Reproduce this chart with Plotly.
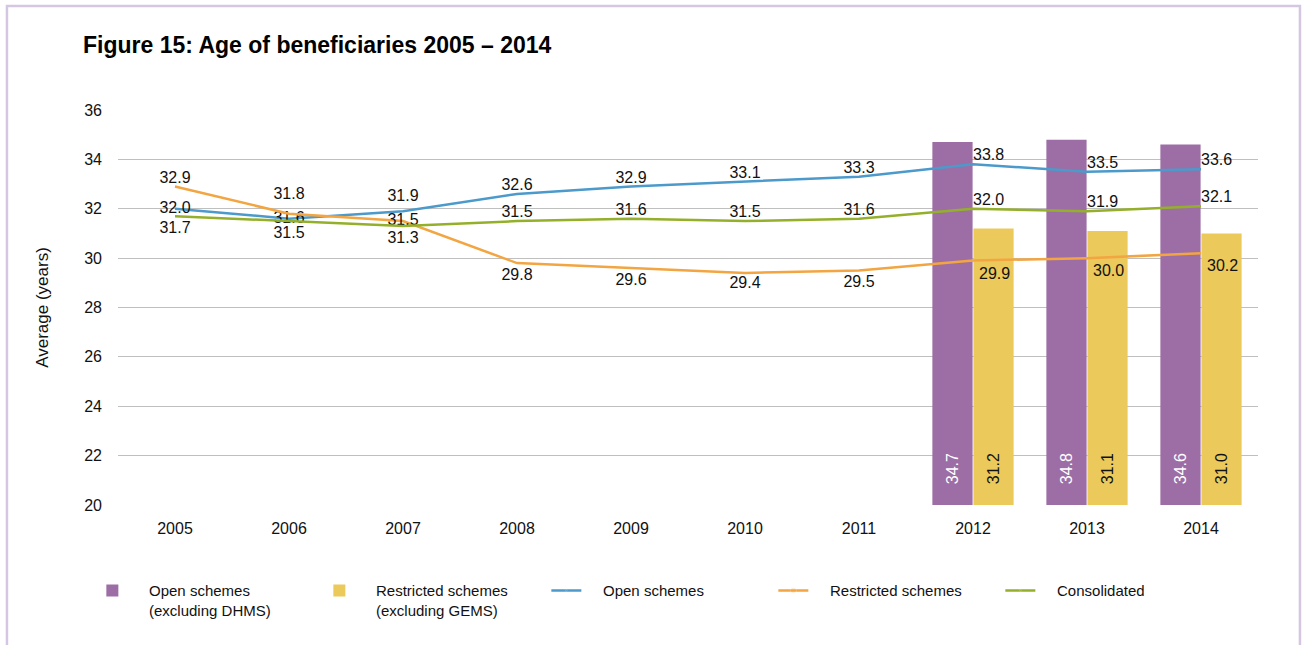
import plotly.graph_objects as go

years = ["2005", "2006", "2007", "2008", "2009", "2010", "2011", "2012", "2013", "2014"]
bar_years = ["2012", "2013", "2014"]
open_excl_dhms = [34.7, 34.8, 34.6]
restricted_excl_gems = [31.2, 31.1, 31.0]
open_schemes = [32.0, 31.6, 31.9, 32.6, 32.9, 33.1, 33.3, 33.8, 33.5, 33.6]
restricted_schemes = [32.9, 31.8, 31.5, 29.8, 29.6, 29.4, 29.5, 29.9, 30.0, 30.2]
consolidated = [31.7, 31.5, 31.3, 31.5, 31.6, 31.5, 31.6, 32.0, 31.9, 32.1]
y_ticks = [20, 22, 24, 26, 28, 30, 32, 34, 36]

AXIS_MIN = y_ticks[0]
PURPLE = "#9D6EA5"
YELLOW = "#ECC95B"
BLUE = "#4B9ACB"
ORANGE = "#F2A541"
GREEN = "#94B02A"
FONT = "Liberation Sans, Arial, sans-serif"

# label placement (style only): text position and invisible marker size used as label offset
open_pos = ["middle center", "middle center"] + ["top center"] * 5 + ["top right"] * 3
open_off = [0, 0, 8, 0, 0, 0, 0, 0, 0, 0]
restr_pos = ["top center", "top center", "middle center"] + ["bottom center"] * 4 + ["bottom right"] * 3
restr_off = [0, 16, 0, 7, 7, 4, 5, 8, 8, 8]
cons_pos = ["bottom center"] * 3 + ["top center"] * 4 + ["top right"] * 3
cons_off = [6, 6, 6, 0, 0, 0, 0, 0, 0, 0]

PAD = "\u00a0" * 4

fig = go.Figure()
fig.add_trace(go.Bar(
    x=bar_years, y=[v - AXIS_MIN for v in open_excl_dhms], base=AXIS_MIN,
    name="    Open schemes<br>    (excluding DHMS)",
    marker=dict(color=PURPLE, line=dict(width=0)),
    text=[PAD + f"{v:.1f}" for v in open_excl_dhms], textposition="inside",
    insidetextanchor="start",
    textangle=-90, textfont=dict(color="white", size=16, family=FONT), constraintext="none",
))
fig.add_trace(go.Bar(
    x=bar_years, y=[v - AXIS_MIN for v in restricted_excl_gems], base=AXIS_MIN,
    name="    Restricted schemes<br>    (excluding GEMS)",
    marker=dict(color=YELLOW, line=dict(width=0)),
    text=[PAD + f"{v:.1f}" for v in restricted_excl_gems], textposition="inside",
    insidetextanchor="start",
    textangle=-90, textfont=dict(color="#111111", size=16, family=FONT), constraintext="none",
))
for name, vals, col, pos, off in [
    ("    Open schemes", open_schemes, BLUE, open_pos, open_off),
    ("    Restricted schemes", restricted_schemes, ORANGE, restr_pos, restr_off),
    ("    Consolidated", consolidated, GREEN, cons_pos, cons_off),
]:
    fig.add_trace(go.Scatter(
        x=years, y=vals, name=name, mode="lines+markers+text",
        line=dict(color=col, width=2.5),
        marker=dict(size=off, opacity=0, color=col),
        text=[f"{v:.1f}" for v in vals], textposition=pos,
        textfont=dict(size=16, color="#111111", family=FONT),
        cliponaxis=False,
    ))

fig.update_layout(
    width=1305, height=645,
    margin=dict(l=118, r=47, t=110, b=140),
    paper_bgcolor="white", plot_bgcolor="white",
    font=dict(family=FONT, size=15, color="#111111"),
    title=dict(text="<b>Figure 15: Age of beneficiaries 2005 – 2014</b>",
               x=83 / 1305, xanchor="left", y=1 - 45 / 645, yanchor="middle",
               font=dict(size=23, family=FONT, color="#000000")),
    barmode="group", bargap=0.28, bargroupgap=0.02,
    showlegend=True,
    legend=dict(orientation="h", x=-0.0225, xanchor="left", y=-0.175, yanchor="top",
                valign="top", entrywidth=182, entrywidthmode="pixels",
                font=dict(size=15, family=FONT), traceorder="normal"),
    shapes=[dict(type="path", xref="paper", yref="paper",
                 path="M -0.0974,-0.5 L -0.0974,1.263 L 1.0368,1.263 L 1.0368,-0.5",
                 line=dict(color="#D5C6E2", width=2.5))],
)
fig.update_xaxes(categoryorder="array", categoryarray=years, range=[-0.5, 9.5],
                 showline=False, showgrid=False, ticks="", ticklabelstandoff=12,
                 tickfont=dict(size=16))
fig.update_yaxes(range=[y_ticks[0], y_ticks[-1]], tickvals=y_ticks, showgrid=True,
                 gridcolor="#BFBFBF", gridwidth=1, zeroline=False, showline=False, ticks="",
                 ticklabelstandoff=15, tickfont=dict(size=16),
                 title=dict(text="Average (years)", font=dict(size=17), standoff=31))

fig.write_html("out.html")
